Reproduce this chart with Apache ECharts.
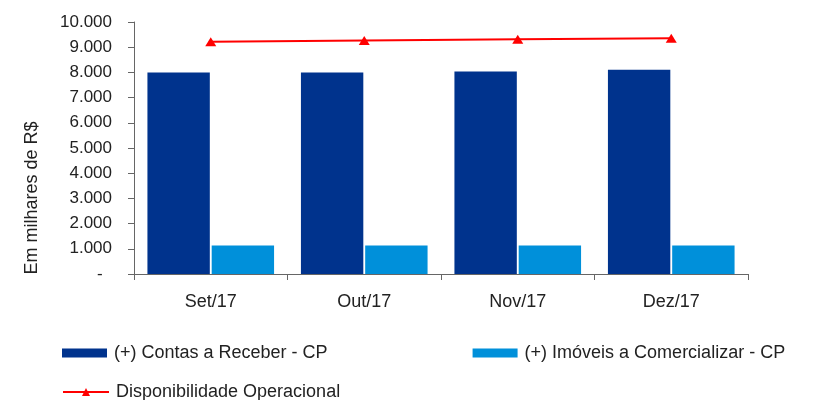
<!DOCTYPE html>
<html>
<head>
<meta charset="utf-8">
<script src="https://cdn.jsdelivr.net/npm/echarts@6/dist/echarts.min.js"></script>
<style>
  html, body { margin: 0; padding: 0; background: #fff; }
  #chart { width: 814px; height: 400px; }
</style>
</head>
<body>
<div id="chart"></div>
<script>
  // dados (em milhares de R$)
  var meses = ['Set/17', 'Out/17', 'Nov/17', 'Dez/17'];
  var contasReceber = [8000, 8000, 8040, 8110];
  var imoveisComercializar = [1130, 1130, 1130, 1130];
  var disponibilidade = [9220, 9270, 9320, 9360];

  var fonte = '"Liberation Sans", Arial, sans-serif';

  function formatMilhar(v) {
    if (v === 0) return '-  ';
    return String(v).replace(/\B(?=(\d{3})+(?!\d))/g, '.');
  }

  var chart = echarts.init(document.getElementById('chart'));
  var option = {
    animation: false,
    textStyle: { fontFamily: fonte, color: '#222' },
    grid: { left: 134, right: 66, top: 22, bottom: 126 },
    legend: [
      {
        left: 62,
        top: 343,
        padding: 0,
        itemWidth: 45,
        itemHeight: 9,
        itemGap: 145,
        icon: 'rect',
        textStyle: { fontSize: 18, color: '#222', lineHeight: 20, fontFamily: fonte, padding: [0, 0, 0, 2] },
        data: ['(+) Contas a Receber - CP', '(+) Imóveis a Comercializar - CP']
      },
      {
        left: 62,
        top: 382,
        padding: 0,
        itemWidth: 46,
        itemHeight: 10,
        textStyle: { fontSize: 18, color: '#222', lineHeight: 20, fontFamily: fonte, padding: [0, 0, 0, 2] },
        data: ['Disponibilidade Operacional']
      }
    ],
    xAxis: {
      type: 'category',
      data: meses,
      axisLine: { lineStyle: { color: '#666', width: 1 } },
      axisTick: { show: true, length: 6, lineStyle: { color: '#666' } },
      axisLabel: { fontSize: 18, color: '#222', margin: 19, fontFamily: fonte },
      splitLine: { show: false }
    },
    yAxis: {
      type: 'value',
      min: 0,
      max: 10000,
      interval: 1000,
      name: 'Em milhares de R$',
      nameLocation: 'middle',
      nameGap: 93,
      nameTextStyle: { fontSize: 18, color: '#222', fontFamily: fonte, padding: [0, 100, 0, 0] },
      axisLine: { show: true, lineStyle: { color: '#666', width: 1 } },
      axisTick: { show: true, length: 6, lineStyle: { color: '#666' } },
      axisLabel: { fontSize: 17, color: '#222', margin: 22, formatter: formatMilhar, fontFamily: fonte },
      splitLine: { show: false }
    },
    series: [
      {
        name: '(+) Contas a Receber - CP',
        type: 'bar',
        data: contasReceber,
        barGap: '3%',
        barCategoryGap: '17.5%',
        itemStyle: { color: '#00338D' }
      },
      {
        name: '(+) Imóveis a Comercializar - CP',
        type: 'bar',
        data: imoveisComercializar,
        itemStyle: { color: '#0090DA' }
      },
      {
        name: 'Disponibilidade Operacional',
        type: 'line',
        data: disponibilidade,
        symbol: 'triangle',
        symbolSize: [11, 9],
        lineStyle: { color: '#FF0000', width: 2 },
        itemStyle: { color: '#FF0000' }
      }
    ]
  };
  chart.setOption(option);
</script>
</body>
</html>
